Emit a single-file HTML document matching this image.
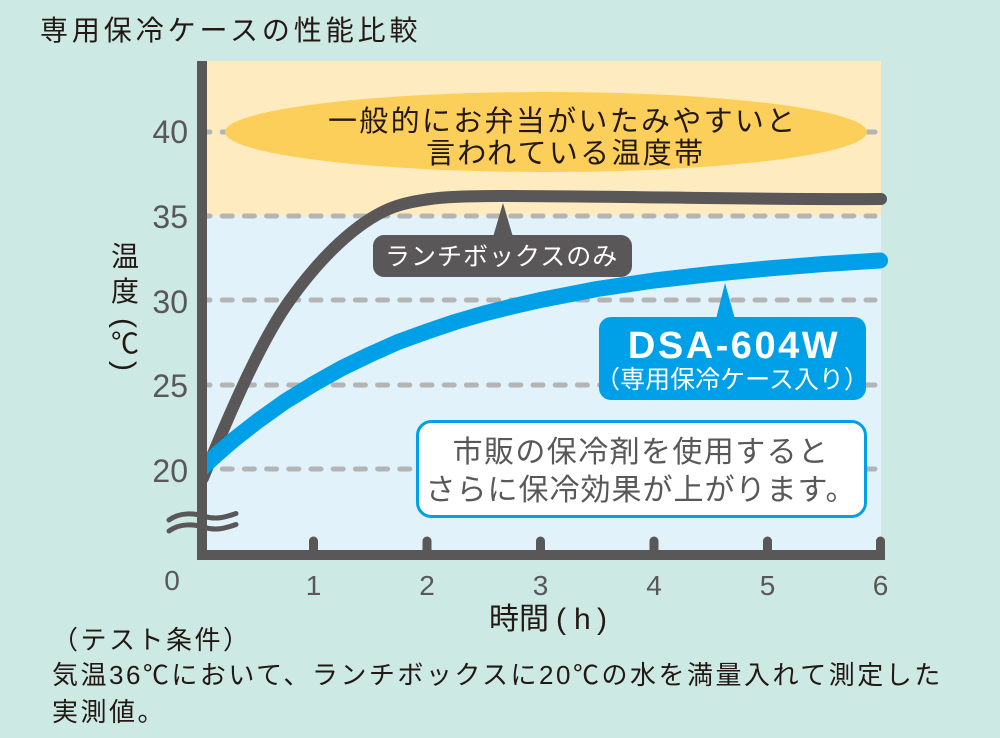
<!DOCTYPE html>
<html><head><meta charset="utf-8"><style>
html,body{margin:0;padding:0;background:#cde9e3;}
svg{display:block;}
.jp{font-family:"Liberation Sans","Noto Sans CJK JP",sans-serif;}
.lat{font-family:"Liberation Sans",sans-serif;}
</style></head><body>
<svg width="1000" height="738" viewBox="0 0 1000 738" xmlns="http://www.w3.org/2000/svg">
<defs><clipPath id="cp"><rect x="207" y="0" width="793" height="738"/></clipPath></defs>
<rect x="0" y="0" width="1000" height="738" fill="#cde9e3"/>
<!-- title -->
<text class="jp" x="40" y="40" font-size="28" letter-spacing="3.9" fill="#231815">専用保冷ケースの性能比較</text>

<!-- plot backgrounds -->
<rect x="206" y="61" width="675" height="155" fill="#feebc0"/>
<rect x="206" y="216" width="675" height="336" fill="#e1f2fb"/>

<!-- gridlines -->
<g stroke="#b4b4b4" stroke-width="5" stroke-linecap="round" stroke-dasharray="10 12.2" fill="none">
<line x1="200" y1="132" x2="875" y2="132"/>
<line x1="200" y1="216" x2="875" y2="216"/>
<line x1="200" y1="300" x2="875" y2="300"/>
<line x1="200" y1="385" x2="875" y2="385"/>
<line x1="200" y1="469" x2="875" y2="469"/>
</g>

<!-- ellipse -->
<ellipse cx="546" cy="132" rx="321" ry="40" fill="#fccf5a"/>
<text class="jp" x="328" y="131" font-size="29" letter-spacing="2.3" fill="#231815">一般的にお弁当がいたみやすいと</text>
<text class="jp" x="426" y="163" font-size="29" letter-spacing="2.3" fill="#231815">言われている温度帯</text>

<!-- curves -->
<g clip-path="url(#cp)">
<path d="M203,478 C233,405 262,339 290,300 C325,251 365,215 400,205 C430,196.4 465,196 500,196 C620,196 760,200 881,199" fill="none" stroke="#595757" stroke-width="12" stroke-linecap="round" stroke-linejoin="round"/>
<polyline points="198,472 205.7,464.6 217,454.2 234,439.5 257,421.5 285,401.5 313.5,384 342,368 370,354.5 398,342 427,331.5 455,322 484,313.5 512,306.5 540.5,300 597,289 654,280.5 711,274 767.5,268.5 824,264 880,260.5" fill="none" stroke="#00a0e9" stroke-width="16" stroke-linecap="round" stroke-linejoin="round"/>
</g>

<!-- gray label -->
<polygon points="493,237 513,237 503,203" fill="#595757"/>
<rect x="373" y="235" width="259" height="42" rx="11" fill="#595757"/>
<text class="jp" x="385" y="265" font-size="25" letter-spacing="1" fill="#ffffff">ランチボックスのみ</text>

<!-- blue label -->
<polygon points="716,319 735,319 725,283" fill="#00a0e9"/>
<rect x="599" y="317" width="267" height="83" rx="12" fill="#00a0e9"/>
<text class="lat" x="734" y="358" font-size="38" font-weight="bold" letter-spacing="2.5" text-anchor="middle" fill="#ffffff">DSA-604W</text>
<text class="jp" x="732" y="388" font-size="25" text-anchor="middle" fill="#ffffff">（専用保冷ケース入り）</text>

<!-- white box -->
<rect x="417.5" y="421.5" width="448" height="95" rx="14" fill="#ffffff" stroke="#00a0e9" stroke-width="3"/>
<text class="jp" x="641" y="462" font-size="30" letter-spacing="1.4" text-anchor="middle" fill="#595757">市販の保冷剤を使用すると</text>
<text class="jp" x="641" y="500" font-size="30" letter-spacing="1" text-anchor="middle" fill="#595757">さらに保冷効果が上がります。</text>

<!-- axes -->
<rect x="197" y="61" width="10" height="499" fill="#595757"/>
<rect x="197" y="550" width="688" height="10" fill="#595757"/>
<g stroke="#595757" stroke-width="9" stroke-linecap="round">
<line x1="313.5" y1="541" x2="313.5" y2="552"/>
<line x1="427" y1="541" x2="427" y2="552"/>
<line x1="540.5" y1="541" x2="540.5" y2="552"/>
<line x1="654" y1="541" x2="654" y2="552"/>
<line x1="767.5" y1="541" x2="767.5" y2="552"/>
<line x1="880.5" y1="541" x2="880.5" y2="552"/>
</g>
<!-- axis break -->
<g stroke="#595757" stroke-width="5" stroke-linecap="round" fill="none">
<path d="M169,520 C180,512 194,513 205,516.5 C216,520 226,517 236,513.5"/>
<path d="M169,531 C180,523 194,524 205,527.5 C216,531 226,528 236,524.5"/>
</g>

<!-- y tick labels -->
<g class="lat" font-size="32" fill="#595757" text-anchor="end">
<text x="188" y="143">40</text>
<text x="188" y="228">35</text>
<text x="188" y="313">30</text>
<text x="188" y="397">25</text>
<text x="188" y="482">20</text>
</g>
<!-- x tick labels -->
<g class="lat" font-size="28" fill="#595757" text-anchor="middle">
<text x="172" y="590">0</text>
<text x="313.5" y="595">1</text>
<text x="427" y="595">2</text>
<text x="540.5" y="595">3</text>
<text x="654" y="595">4</text>
<text x="767.5" y="595">5</text>
<text x="880.5" y="595">6</text>
</g>

<!-- y axis title (vertical) -->
<g class="jp" fill="#231815" text-anchor="middle">
<text x="125" y="266" font-size="28">温</text>
<text x="125" y="301" font-size="28">度</text>
<text class="lat" x="125" y="333" font-size="30" transform="rotate(90 125 323)">(</text>
<text x="125" y="353" font-size="28">℃</text>
<text class="lat" x="125" y="376" font-size="30" transform="rotate(90 125 366)">)</text>
</g>

<!-- x axis title -->
<text class="jp" x="489" y="629" font-size="30" fill="#231815">時間</text>
<text class="lat" x="556" y="629" font-size="30" fill="#231815">(</text>
<text class="lat" x="574" y="629" font-size="30" fill="#231815">h</text>
<text class="lat" x="597" y="629" font-size="30" fill="#231815">)</text>

<!-- notes -->
<g class="jp" font-size="26" letter-spacing="2.5" fill="#231815">
<text x="52" y="649">（テスト条件）</text>
<text x="52" y="684">気温36℃において、ランチボックスに20℃の水を満量入れて測定した</text>
<text x="52" y="721">実測値。</text>
</g>
</svg>
</body></html>
